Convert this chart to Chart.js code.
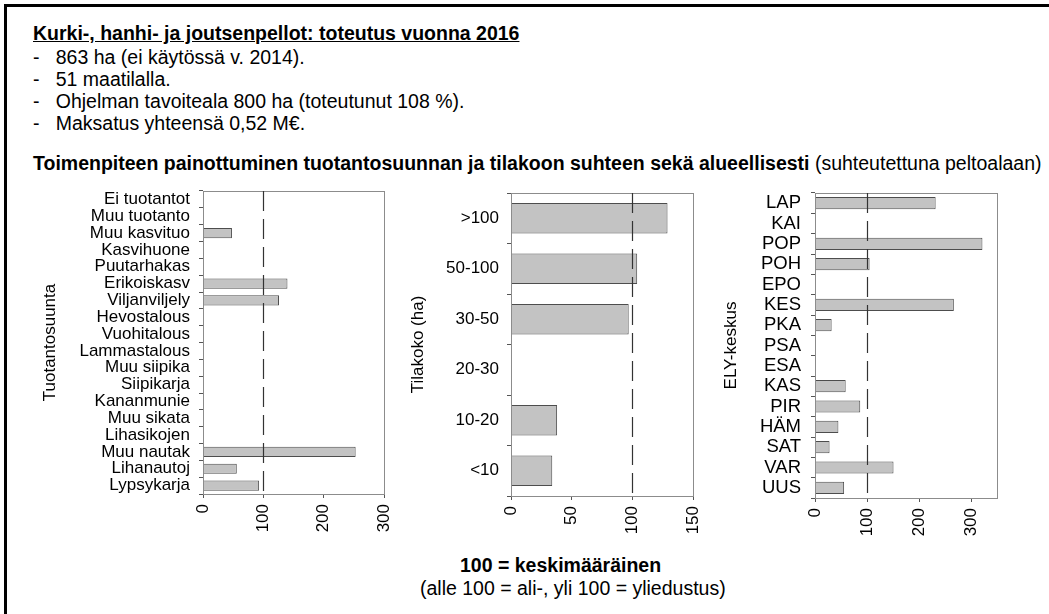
<!DOCTYPE html>
<html>
<head>
<meta charset="utf-8">
<script src="https://cdn.jsdelivr.net/npm/chart.js@4/dist/chart.umd.min.js"></script>
<style>
  html, body { margin: 0; padding: 0; background: #fff; }
  body { width: 1049px; height: 614px; position: relative; overflow: hidden;
         font-family: "Liberation Sans", Arial, sans-serif; color: #000; }
  .frame { position: absolute; left: 4px; top: 4px; width: 1100px; height: 700px;
           border-top: 3px solid #000; border-left: 3px solid #000; }
  .t { position: absolute; white-space: nowrap; font-size: 19.5px; line-height: 22px; }
  .b { font-weight: bold; }
  canvas { position: absolute; }
</style>
</head>
<body>
<div class="frame"></div>
<div class="t b" style="left:33px; top:22px; text-decoration: underline;">Kurki-, hanhi- ja joutsenpellot: toteutus vuonna 2016</div>
<div class="t" style="left:33px; top:46px;">-&nbsp;&nbsp;&nbsp;863 ha (ei käytössä v. 2014).</div>
<div class="t" style="left:33px; top:68px;">-&nbsp;&nbsp;&nbsp;51 maatilalla.</div>
<div class="t" style="left:33px; top:90px;">-&nbsp;&nbsp;&nbsp;Ohjelman tavoiteala 800 ha (toteutunut 108 %).</div>
<div class="t" style="left:33px; top:112px;">-&nbsp;&nbsp;&nbsp;Maksatus yhteensä 0,52 M€.</div>
<div class="t" style="left:33px; top:152px;"><span class="b">Toimenpiteen painottuminen tuotantosuunnan ja tilakoon suhteen sekä alueellisesti</span> (suhteutettuna peltoalaan)</div>
<div class="t b" style="left:460px; top:554px;">100 = keskimääräinen</div>
<div class="t" style="left:420px; top:577px;">(alle 100 = ali-, yli 100 = yliedustus)</div>

<canvas id="c1" width="370" height="365" style="left:30px; top:185px;"></canvas>
<canvas id="c2" width="310" height="365" style="left:405px; top:185px;"></canvas>
<canvas id="c3" width="334" height="365" style="left:715px; top:185px;"></canvas>

<script>
// ---- Data ----
const prodCategories = ["Ei tuotantot","Muu tuotanto","Muu kasvituo","Kasvihuone","Puutarhakas",
  "Erikoiskasv","Viljanviljely","Hevostalous","Vuohitalous","Lammastalous","Muu siipika",
  "Siipikarja","Kananmunie","Muu sikata","Lihasikojen","Muu nautak","Lihanautoj","Lypsykarja"];
const prodValues = [0, 0, 48, 0, 0, 140, 126, 0, 0, 0, 0, 0, 0, 0, 0, 253, 56, 93];
const prodTicks = [0, 100, 200, 300];

const sizeCategories = [">100","50-100","30-50","20-30","10-20","<10"];
const sizeValues = [129, 104, 97, 0, 38, 34];
const sizeTicks = [0, 50, 100, 150];

const elyCategories = ["LAP","KAI","POP","POH","EPO","KES","PKA","PSA","ESA","KAS","PIR","HÄM","SAT","VAR","UUS"];
const elyValues = [232, 0, 322, 105, 0, 267, 32, 0, 0, 59, 87, 45, 28, 151, 56];
const elyTicks = [0, 100, 200, 300];

const referenceValue = 100;

// ---- Plugins ----
const boxAndRef = {
  id: 'boxAndRef',
  afterDatasetsDraw(chart) {
    const ctx = chart.ctx, a = chart.chartArea;
    ctx.save();
    ctx.strokeStyle = '#8c8c8c';
    ctx.lineWidth = 1;
    ctx.strokeRect(Math.round(a.left) + 0.5, Math.round(a.top) + 0.5,
                   Math.round(a.right - a.left), Math.round(a.bottom - a.top));
    const x = Math.round(chart.scales.x.getPixelForValue(referenceValue)) + 0.5;
    ctx.strokeStyle = '#333';
    ctx.lineWidth = 1.2;
    ctx.setLineDash([20, 8]);
    ctx.beginPath();
    ctx.moveTo(x, a.top);
    ctx.lineTo(x, a.bottom);
    ctx.stroke();
    ctx.restore();
  }
};

function makePanel(id, labels, values, ticks, max, title, L) {
  const font = { family: '"Liberation Sans", Arial, sans-serif', size: 17 };
  const yFont = { family: '"Liberation Sans", Arial, sans-serif', size: L.yfs };
  new Chart(document.getElementById(id), {
    type: 'bar',
    data: {
      labels: labels,
      datasets: [{
        data: values,
        backgroundColor: '#c3c3c3',
        borderColor: '#4d4d4d',
        borderWidth: 1,
        borderSkipped: 'start',
        barPercentage: 0.6,
        categoryPercentage: 1
      }]
    },
    options: {
      indexAxis: 'y',
      responsive: false,
      animation: false,
      events: [],
      layout: { padding: { top: L.top, right: L.right, left: 0, bottom: 0 } },
      plugins: { legend: { display: false }, tooltip: { enabled: false } },
      scales: {
        y: {
          type: 'category',
          offset: true,
          afterFit(s) { s.width = L.yw; s.paddingTop = 0; s.paddingBottom = 0; },
          grid: { display: true, drawOnChartArea: false, drawTicks: true, tickLength: 4, color: '#555' },
          border: { display: false },
          ticks: { color: '#000', font: yFont, padding: L.yp, autoSkip: false },
          title: { display: true, text: title, color: '#000', font: font, padding: { top: L.tp, bottom: 0 } }
        },
        x: {
          type: 'linear',
          min: 0,
          max: max,
          afterFit(s) { s.height = L.xh; s.paddingLeft = 0; s.paddingRight = 0; },
          afterBuildTicks(s) { s.ticks = ticks.map(v => ({ value: v })); },
          grid: { display: true, drawOnChartArea: false, drawTicks: true, tickLength: 4, color: '#555' },
          border: { display: false },
          ticks: { color: '#000', font: font, padding: 6, minRotation: 90, maxRotation: 90,
                   callback: v => String(v) }
        }
      }
    },
    plugins: [boxAndRef]
  });
}

makePanel('c1', prodCategories, prodValues, prodTicks, 300, 'Tuotantosuunta',
  { top: 6, right: 16, yw: 173, xh: 56, tp: 10, yp: 9, yfs: 17 });
makePanel('c2', sizeCategories, sizeValues, sizeTicks, 150, 'Tilakoko (ha)',
  { top: 8, right: 22, yw: 106, xh: 54, tp: 3, yp: 8, yfs: 17 });
makePanel('c3', elyCategories, elyValues, elyTicks, 350, 'ELY-keskus',
  { top: 8, right: 52, yw: 100, xh: 52, tp: 6, yp: 10, yfs: 18.5 });
</script>
</body>
</html>
